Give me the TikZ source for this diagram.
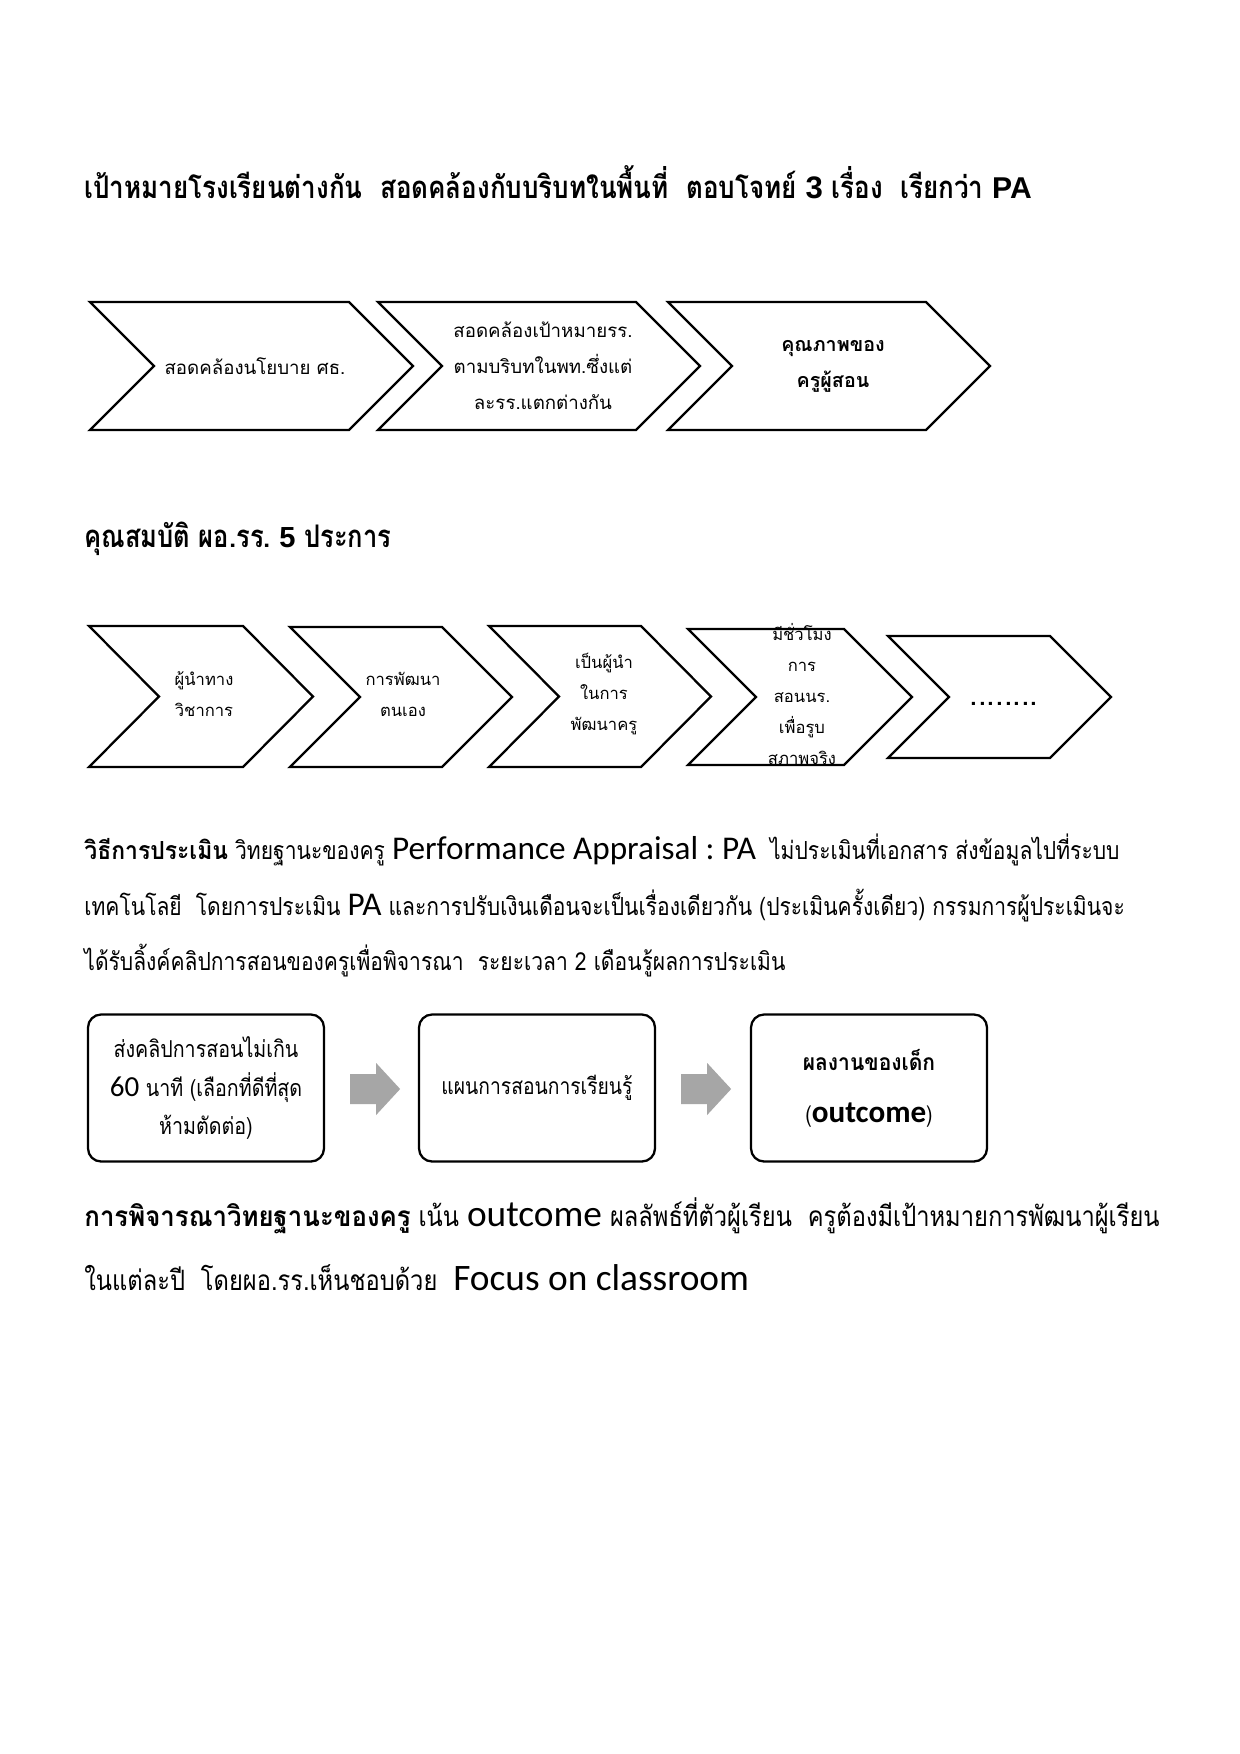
\documentclass[tikz,border=0pt]{standalone}
\usepackage{fontspec}
\newfontfamily\thaifont[Script=Thai]{Loma}
\newfontfamily\thaiN[Script=Thai,FakeStretch=0.845]{Loma}
\newfontfamily\thaiNB[Script=Thai,FakeStretch=0.92]{Loma Bold}
\newfontfamily\thaiT[Script=Thai,FakeStretch=0.835]{Loma Bold}
\newfontfamily\thaiH[Script=Thai,FakeStretch=0.82]{Loma Bold}
\newfontfamily\calf{Carlito}
\newfontfamily\arialf{Liberation Sans}
\newlength\pxu
\setlength\pxu{0.16935mm}
\newcommand\chevpath[5]{% x, top, w, h, d
  \draw[chevline] (#1,#2) -- (#1+#3-#5,#2) -- (#1+#3,#2+#4/2) -- (#1+#3-#5,#2+#4) -- (#1,#2+#4) -- (#1+#5,#2+#4/2) -- cycle;}
\frenchspacing
\begin{document}
\begin{tikzpicture}[x=\pxu,y=-\pxu,
  chevline/.style={draw=black,line width=1.1pt,line join=miter},
  txt/.style={inner sep=0pt,anchor=base west},
  chevtxt/.style={inner sep=0pt,align=center,font=\thaifont\fontsize{9}{17.3}\selectfont},
  chevtxtB/.style={inner sep=0pt,align=center,font=\thaifont\fontsize{8}{14.9}\selectfont},
  boxnode/.style={draw=black,line width=1.1pt,rounded corners=6.3pt,minimum width=236\pxu,minimum height=147\pxu,align=center,inner sep=0pt},
  grayarrow/.style={fill=black!35,draw=none}]
\useasboundingbox (0,0) rectangle (1240,1754);
\fill[white] (0,0) rectangle (1240,1754);

% title
\node[txt] (title) at (84,198) {\thaiT\fontsize{15}{18}\selectfont เป้าหมายโรงเรียนต่างกัน\ \ สอดคล้องกับบริบทในพื้นที่\ \ ตอบโจทย์ {\arialf\bfseries 3} เรื่อง\ \ เรียกว่า {\arialf\bfseries\fontsize{14.5}{17}\selectfont PA}};

% row 1 chevrons
\chevpath{90}{302}{323}{128}{64}
\chevpath{378}{302}{322}{128}{64}
\chevpath{668}{302}{322}{128}{64}
\node[chevtxt] (c1) at (255,366) {สอดคล้องนโยบาย ศธ.};
\node[chevtxt] (c2) at (543,366) {สอดคล้องเป้าหมายรร.\\ตามบริบทในพท.ซึ่งแต่\\ละรร.แตกต่างกัน};
\node[chevtxt] (c3) at (833,366) {\bfseries\fontsize{9.5}{17.3}\selectfont คุณภาพของ\\\bfseries\fontsize{9.5}{17.3}\selectfont ครูผู้สอน};

% heading 2
\node[txt] (head2) at (84,547) {\thaiH\fontsize{15}{18}\selectfont คุณสมบัติ ผอ.รร. {\arialf\bfseries\fontsize{14}{17}\selectfont 5} ประการ};

% row 2 chevrons
\chevpath{89}{626}{224}{141}{70}
\chevpath{290}{627}{222}{140}{70}
\chevpath{489}{626}{222}{141}{70}
\chevpath{688}{629}{224}{136}{68}
\chevpath{888}{636}{223}{122}{61}
\node[chevtxtB] (d1) at (204,694) {ผู้นำทาง\\วิชาการ};
\node[chevtxtB] (d2) at (403,694) {การพัฒนา\\ตนเอง};
\node[chevtxtB] (d3) at (604,694) {เป็นผู้นำ\\ในการ\\พัฒนาครู};
\node[chevtxtB] (d4) at (802,694) {มีชั่วโมง\\การ\\สอนนร.\\เพื่อรูบ\\สภาพจริง};
\node[inner sep=0pt,anchor=base,font=\thaifont\fontsize{15}{18}\selectfont] (d5) at (1004,705) {........};

% paragraph 1
\begin{scope}[every node/.append style={font=\thaiN\fontsize{12}{14}\selectfont}]
\node[txt] (p1) at (84,859) {{\thaiNB วิธีการประเมิน} วิทยฐานะของครู {\calf\fontsize{16}{19}\selectfont Performance Appraisal : PA}\ \ ไม่ประเมินที่เอกสาร ส่งข้อมูลไปที่ระบบ};
\node[txt] (p2) at (84,915) {เทคโนโลยี\ \ โดยการประเมิน {\calf\fontsize{16}{19}\selectfont PA} และการปรับเงินเดือนจะเป็นเรื่องเดียวกัน (ประเมินครั้งเดียว) กรรมการผู้ประเมินจะ};
\node[txt] (p3) at (84,970) {ได้รับลิ้งค์คลิปการสอนของครูเพื่อพิจารณา\ \ ระยะเวลา 2 เดือนรู้ผลการประเมิน};
\end{scope}

% boxes
\node[boxnode,font=\thaiN\fontsize{11.2}{18.7}\selectfont] (b1) at (206,1088) {ส่งคลิปการสอนไม่เกิน\\{\calf\fontsize{14}{17}\selectfont 60} นาที (เลือกที่ดีที่สุด\\ห้ามตัดต่อ)};
\node[boxnode,font=\thaiN\fontsize{11}{18.7}\selectfont] (b2) at (537,1088) {แผนการสอนการเรียนรู้};
\node[boxnode,font=\thaiN\fontsize{11}{25}\selectfont] (b3) at (869,1088) {{\thaiNB ผลงานของเด็ก}\\({\calf\bfseries\fontsize{15}{18}\selectfont outcome})};
\fill[grayarrow] ([xshift=25\pxu]b1.east |- 0,1074) -- ++(26,0) -- ++(0,-11) -- ++(24,26) -- ++(-24,26) -- ++(0,-11) -- ++(-26,0) -- cycle;
\fill[grayarrow] ([xshift=25\pxu]b2.east |- 0,1074) -- ++(26,0) -- ++(0,-11) -- ++(24,26) -- ++(-24,26) -- ++(0,-11) -- ++(-26,0) -- cycle;

% paragraph 2
\begin{scope}[every node/.append style={font=\thaiN\fontsize{13.5}{16}\selectfont}]
\node[txt] (q1) at (84,1226) {{\thaiNB การพิจารณาวิทยฐานะของครู} เน้น {\calf\fontsize{18}{21}\selectfont outcome} ผลลัพธ์ที่ตัวผู้เรียน\ \ ครูต้องมีเป้าหมายการพัฒนาผู้เรียน};
\node[txt] (q2) at (84,1290) {ในแต่ละปี\ \ โดยผอ.รร.เห็นชอบด้วย\ \ {\calf\fontsize{18}{21}\selectfont Focus on classroom}};
\end{scope}
\end{tikzpicture}
\end{document}
